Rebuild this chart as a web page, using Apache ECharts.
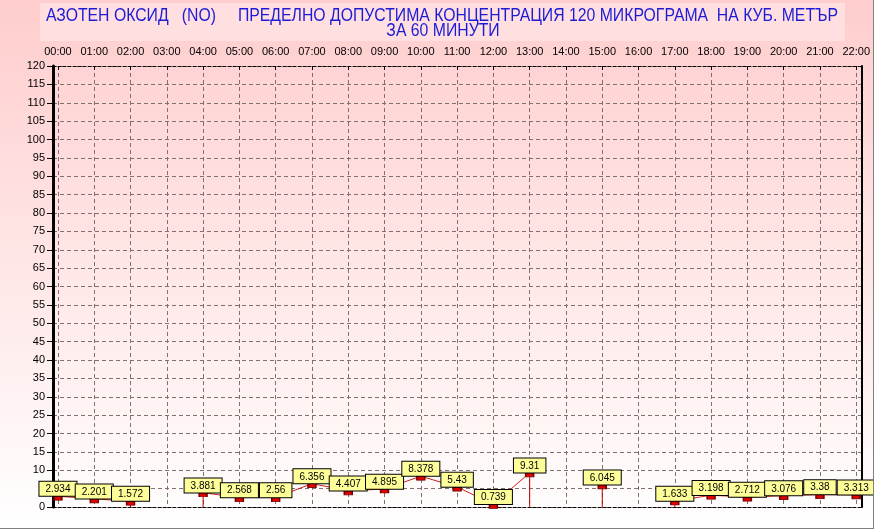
<!DOCTYPE html>
<html>
<head>
<meta charset="utf-8">
<script src="https://cdn.jsdelivr.net/npm/echarts@6/dist/echarts.min.js"></script>
<style>
html,body{margin:0;padding:0;background:#fff;}
#chart{width:874px;height:529px;box-sizing:border-box;border-right:1px solid #808080;border-bottom:1px solid #808080;}
</style>
</head>
<body>
<div id="chart"></div>
<script>
const titleLine1 = 'АЗОТЕН ОКСИД   (NO)     ПРЕДЕЛНО ДОПУСТИМА КОНЦЕНТРАЦИЯ 120 МИКРОГРАМА  НА КУБ. МЕТЪР';
const titleLine2 = 'ЗА 60 МИНУТИ';
const hours = ['00:00','01:00','02:00','03:00','04:00','05:00','06:00','07:00','08:00','09:00','10:00','11:00','12:00','13:00','14:00','15:00','16:00','17:00','18:00','19:00','20:00','21:00','22:00'];
const values = [2.934, 2.201, 1.572, null, 3.881, 2.568, 2.56, 6.356, 4.407, 4.895, 8.378, 5.43, 0.739, 9.31, null, 6.045, null, 1.633, 3.198, 2.712, 3.076, 3.38, 3.313];
const yMin = 0, yMax = 120, yStep = 5;

const hourIdx = hours.map((h, i) => i);
const lineData = values.map((v, i) => [i, v == null ? '-' : v]);
const dropData = [];
values.forEach((v, i) => {
  if (v == null) return;
  const prevGap = i > 0 && values[i - 1] == null;
  const nextGap = i < values.length - 1 && values[i + 1] == null;
  if (prevGap || nextGap) {
    dropData.push([i, 0], [i, v], [i, '-']);
  }
});

const chart = echarts.init(document.getElementById('chart'));
const font = '"Liberation Sans", Arial, sans-serif';
const titleColor = '#1c1cd8';
chart.setOption({
  animation: false,
  backgroundColor: new echarts.graphic.LinearGradient(0, 0, 0, 1, [
    {offset: 0, color: '#ffcdcd'},
    {offset: 1, color: '#ffffff'}
  ]),
  graphic: [{
    type: 'rect',
    shape: {x: 40, y: 3, width: 805, height: 38},
    style: {fill: '#ffdfdf'},
    silent: true
  }, {
    type: 'text',
    x: 442, y: 16,
    scaleX: 0.877,
    style: {
      text: titleLine1,
      font: '18px "Liberation Sans", Arial, sans-serif',
      fill: titleColor,
      align: 'center', verticalAlign: 'middle',
      textAlign: 'center', textVerticalAlign: 'middle'
    },
    silent: true
  }, {
    type: 'text',
    x: 443, y: 31.5,
    scaleX: 0.877,
    style: {
      text: titleLine2,
      font: '18px "Liberation Sans", Arial, sans-serif',
      fill: titleColor,
      align: 'center', verticalAlign: 'middle',
      textAlign: 'center', textVerticalAlign: 'middle'
    },
    silent: true
  }],
  grid: {left: 53, top: 66, right: 8, bottom: 21, containLabel: false},
  xAxis: [{
    type: 'value',
    position: 'top',
    min: -0.137,
    max: 22.14,
    axisLine: {show: true, onZero: false, lineStyle: {color: '#000', type: [3, 2], width: 1}},
    axisTick: {show: true, inside: true, length: 4, customValues: hourIdx, lineStyle: {color: '#000'}},
    axisLabel: {
      customValues: hourIdx,
      formatter: v => hours[Math.round(v)],
      color: '#000', fontSize: 11, fontFamily: font, margin: 9
    },
    splitLine: {show: true, lineStyle: {color: '#807070', type: [4, 3], width: 1}}
  }, {
    type: 'value',
    position: 'bottom',
    min: -0.137,
    max: 22.14,
    axisLine: {show: true, onZero: false, lineStyle: {color: '#000', type: [3, 2], width: 1}},
    axisTick: {show: false},
    axisLabel: {show: false},
    splitLine: {show: false}
  }],
  yAxis: [{
    type: 'value',
    min: yMin, max: yMax, interval: yStep,
    axisLine: {show: true, onZero: false, lineStyle: {color: '#000', width: 3}},
    axisTick: {show: true, length: 6, lineStyle: {color: '#000'}},
    axisLabel: {color: '#000', fontSize: 11, fontFamily: font, margin: 8},
    splitLine: {show: true, lineStyle: {color: '#807070', type: [4, 3], width: 1}}
  }, {
    type: 'value',
    position: 'right',
    min: yMin, max: yMax,
    axisLine: {show: true, onZero: false, lineStyle: {color: '#000', width: 2}},
    axisTick: {show: false},
    axisLabel: {show: false},
    splitLine: {show: false}
  }],
  series: [{
    type: 'line',
    data: dropData,
    xAxisIndex: 0,
    yAxisIndex: 0,
    symbol: 'none',
    connectNulls: false,
    lineStyle: {color: '#c00000', width: 1},
    silent: true,
    z: 2
  }, {
    type: 'line',
    data: lineData,
    xAxisIndex: 0,
    yAxisIndex: 0,
    connectNulls: false,
    symbol: 'rect',
    symbolSize: [8, 4],
    symbolOffset: [0, 2],
    showAllSymbol: true,
    lineStyle: {color: '#d02020', width: 1},
    itemStyle: {color: '#dd0000', borderColor: '#700000', borderWidth: 1},
    label: {
      show: true,
      position: 'top',
      distance: 0,
      formatter: p => String(p.value[1]),
      color: '#000',
      fontSize: 10,
      fontFamily: font,
      backgroundColor: '#ffff99',
      borderColor: '#000',
      borderWidth: 1,
      padding: [3, 6, 2, 6],
      lineHeight: 9
    },
    z: 3
  }]
});
</script>
</body>
</html>
